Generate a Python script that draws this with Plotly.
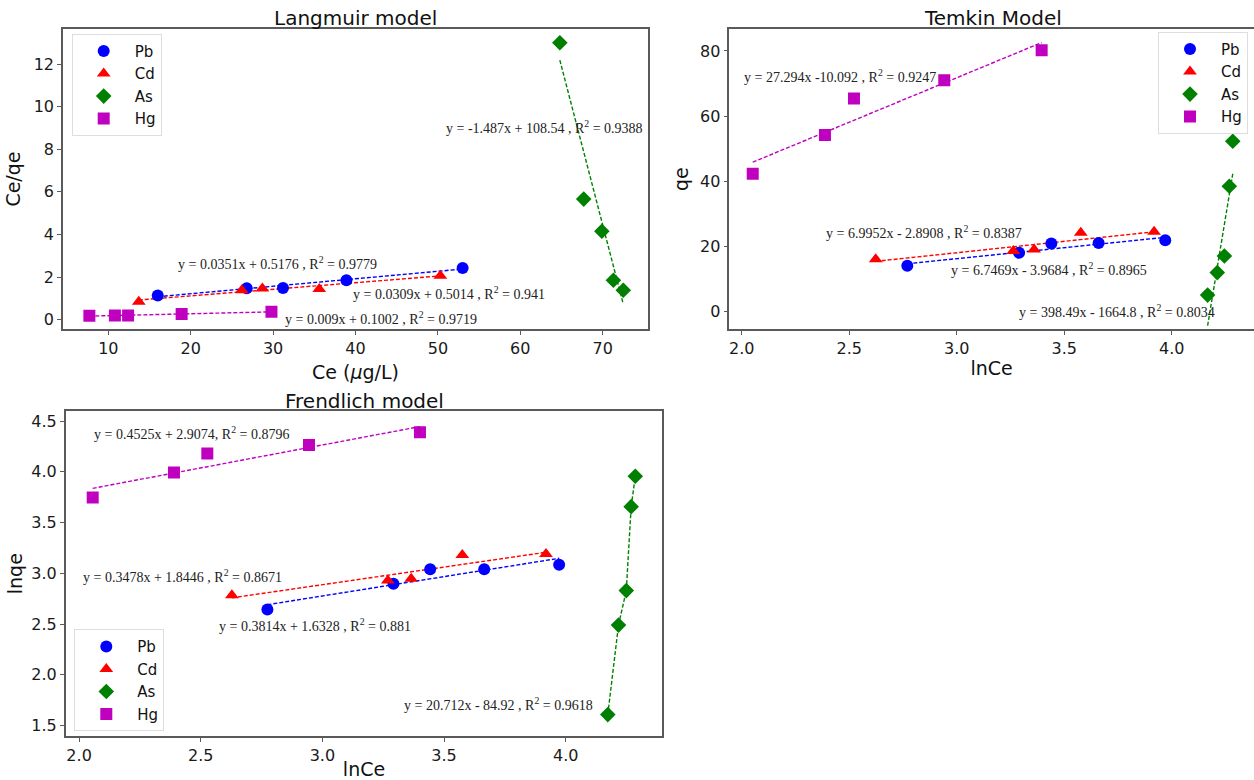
import plotly.graph_objects as go

# ---------------- data ----------------
metals = ["Pb", "Cd", "As", "Hg"]
colors = {"Pb": "#0000FF", "Cd": "#FF0000", "As": "#008000", "Hg": "#BF00BF"}
symbols = {"Pb": "circle", "Cd": "triangle-up", "As": "diamond", "Hg": "square"}

# Langmuir: Ce vs Ce/qe
lang_x_Pb = [16.0, 26.8, 31.2, 38.9, 53.0]
lang_y_Pb = [1.14, 1.48, 1.49, 1.85, 2.43]
lang_x_Cd = [13.7, 26.2, 28.7, 35.6, 50.3]
lang_y_Cd = [0.84, 1.38, 1.46, 1.44, 2.06]
lang_x_As = [64.8, 67.7, 69.9, 71.3, 72.5]
lang_y_As = [13.0, 5.66, 4.15, 1.85, 1.38]
lang_x_Hg = [7.7, 10.8, 12.4, 18.9, 29.8]
lang_y_Hg = [0.19, 0.2, 0.2, 0.27, 0.37]
lang_fit = {"Pb": (0.0351, 0.5176), "Cd": (0.0309, 0.5014), "As": (-1.487, 108.54), "Hg": (0.009, 0.1002)}
lang_eq = {
    "Pb": "y = 0.0351x + 0.5176 , R<sup>2</sup> = 0.9779",
    "Cd": "y = 0.0309x + 0.5014 , R<sup>2</sup> = 0.941",
    "As": "y = -1.487x + 108.54 , R<sup>2</sup> = 0.9388",
    "Hg": "y = 0.009x + 0.1002 , R<sup>2</sup> = 0.9719",
}

# Temkin: lnCe vs qe
temk_x_Pb = [2.77, 3.29, 3.44, 3.66, 3.97]
temk_y_Pb = [14.1, 18.1, 20.9, 21.1, 21.9]
temk_x_Cd = [2.623, 3.263, 3.36, 3.577, 3.918]
temk_y_Cd = [16.1, 18.6, 19.1, 24.2, 24.5]
temk_x_As = [4.167, 4.212, 4.245, 4.268, 4.284]
temk_y_As = [5.1, 12.0, 17.1, 38.5, 52.3]
temk_x_Hg = [2.051, 2.387, 2.522, 2.942, 3.395]
temk_y_Hg = [42.3, 54.2, 65.4, 71.0, 80.2]
temk_fit = {"Pb": (6.7469, -3.9684), "Cd": (6.9952, -2.8908), "As": (398.49, -1664.8), "Hg": (27.294, -10.092)}
temk_eq = {
    "Pb": "y = 6.7469x - 3.9684 , R<sup>2</sup> = 0.8965",
    "Cd": "y = 6.9952x - 2.8908 , R<sup>2</sup> = 0.8387",
    "As": "y = 398.49x - 1664.8 , R<sup>2</sup> = 0.8034",
    "Hg": "y = 27.294x -10.092 , R<sup>2</sup> = 0.9247",
}

# Freundlich: lnCe vs lnqe
freu_x_Pb = [2.774, 3.292, 3.443, 3.665, 3.973]
freu_y_Pb = [2.643, 2.898, 3.04, 3.04, 3.084]
freu_x_Cd = [2.628, 3.269, 3.365, 3.575, 3.919]
freu_y_Cd = [2.784, 2.93, 2.947, 3.18, 3.19]
freu_x_As = [4.173, 4.217, 4.249, 4.269, 4.286]
freu_y_As = [1.608, 2.49, 2.83, 3.657, 3.957]
freu_x_Hg = [2.056, 2.39, 2.527, 2.945, 3.401]
freu_y_Hg = [3.748, 3.993, 4.18, 4.265, 4.39]
freu_fit = {"Pb": (0.3814, 1.6328), "Cd": (0.3478, 1.8446), "Hg": (0.4525, 2.9074)}
freu_eq = {
    "Pb": "y = 0.3814x + 1.6328 , R<sup>2</sup> = 0.881",
    "Cd": "y = 0.3478x + 1.8446 , R<sup>2</sup> = 0.8671",
    "As": "y = 20.712x - 84.92 , R<sup>2</sup> = 0.9618",
    "Hg": "y = 0.4525x + 2.9074, R<sup>2</sup> = 0.8796",
}

lang = {"Pb": (lang_x_Pb, lang_y_Pb), "Cd": (lang_x_Cd, lang_y_Cd), "As": (lang_x_As, lang_y_As), "Hg": (lang_x_Hg, lang_y_Hg)}
temk = {"Pb": (temk_x_Pb, temk_y_Pb), "Cd": (temk_x_Cd, temk_y_Cd), "As": (temk_x_As, temk_y_As), "Hg": (temk_x_Hg, temk_y_Hg)}
freu = {"Pb": (freu_x_Pb, freu_y_Pb), "Cd": (freu_x_Cd, freu_y_Cd), "As": (freu_x_As, freu_y_As), "Hg": (freu_x_Hg, freu_y_Hg)}

# ---------------- figure ----------------
W, H = 1254, 780
fig = go.Figure()

def px(x):
    return x / W

def py(y):
    return 1 - y / H

FRAME = "#5a5a5a"
TICKFONT = dict(family="DejaVu Sans", size=16, color="#1a1a1a")
LABFONT = dict(family="DejaVu Sans", size=19, color="#111111")
TITLEFONT = dict(family="DejaVu Sans", size=20, color="#111111")
EQFONT = dict(family="Liberation Serif", size=14, color="#222222")
LEGFONT = dict(family="DejaVu Sans", size=15, color="#111111")
DASH = "4px,2px"

panels = [
    ("lang", lang, lang_fit, "", "legend"),
    ("temk", temk, temk_fit, "2", "legend2"),
    ("freu", freu, freu_fit, "3", "legend3"),
]

for name, data, fit, sfx, leg in panels:
    xa = "x" + sfx
    ya = "y" + sfx
    for m in metals:
        xs, ys = data[m]
        if m in fit:
            a, b = fit[m]
            lx = [min(xs), max(xs)]
            ly = [a * v + b for v in lx]
        else:
            lx, ly = xs, ys
        fig.add_trace(go.Scatter(x=lx, y=ly, mode="lines", xaxis=xa, yaxis=ya,
                                 line=dict(color=colors[m], width=1.4, dash=DASH),
                                 showlegend=False, hoverinfo="skip"))
    for m in metals:
        xs, ys = data[m]
        fig.add_trace(go.Scatter(x=xs, y=ys, mode="markers", name=m, xaxis=xa, yaxis=ya,
                                 legend=leg,
                                 marker=dict(color=colors[m], symbol=symbols[m], size=12,
                                             line=dict(width=0))))

axis_common = dict(showline=True, linecolor=FRAME, linewidth=1.5, ticks="outside",
                   ticklen=4, tickcolor=FRAME, showgrid=False, zeroline=False,
                   tickfont=TICKFONT)

legend_common = dict(bgcolor="white", bordercolor="#dddddd", borderwidth=1, font=LEGFONT,
                     itemwidth=52)

fig.update_layout(
    width=W, height=H, margin=dict(l=0, r=0, t=0, b=0),
    paper_bgcolor="white", plot_bgcolor="white",
    # Langmuir
    xaxis=dict(domain=[px(63), px(648)], range=[4.5, 75.5], dtick=10, tick0=0,
               anchor="y", mirror=True, title=dict(text="Ce (<i>μ</i>g/L)", font=LABFONT, standoff=8),
               **axis_common),
    yaxis=dict(domain=[py(331), py(29)], range=[-0.45, 13.65], dtick=2, tick0=0,
               anchor="x", mirror=True, title=dict(text="Ce/qe", font=LABFONT, standoff=8),
               **axis_common),
    # Temkin
    xaxis2=dict(domain=[px(729.3), 1.0], range=[1.942, 2.0 + (W - 741.7) / 215.0], dtick=0.5,
                tick0=0, tickformat=".1f", anchor="y2", mirror=True,
                title=dict(text="lnCe", font=LABFONT, standoff=4), **axis_common),
    yaxis2=dict(domain=[py(331), py(29.3)], range=[-5.4, 86.7], dtick=20, tick0=0,
                anchor="x2", mirror=False, title=dict(text="qe", font=LABFONT, standoff=6),
                **axis_common),
    # Freundlich
    xaxis3=dict(domain=[px(65.7), px(662.3)], range=[1.945, 4.397], dtick=0.5, tick0=0,
                tickformat=".1f", anchor="y3", mirror=True,
                title=dict(text="lnCe", font=LABFONT, standoff=2), **axis_common),
    yaxis3=dict(domain=[py(740), py(413.3)], range=[1.395, 4.598], dtick=0.5, tick0=0,
                tickformat=".1f", anchor="x3", mirror=True,
                title=dict(text="lnqe", font=LABFONT, standoff=4), **axis_common),
    legend=dict(x=px(71.7), y=py(34), xanchor="left", yanchor="top", **legend_common),
    legend2=dict(x=px(1248), y=py(32), xanchor="right", yanchor="top", **legend_common),
    legend3=dict(x=px(74.3), y=py(735), xanchor="left", yanchor="bottom", **legend_common),
)

# titles
titles = [("Langmuir model", px(355.5), py(18)), ("Temkin Model", px(993), py(18)),
          ("Frendlich model", px(364), py(403))]
for t, x, y in titles:
    fig.add_annotation(text=t, x=x, y=y, xref="paper", yref="paper", showarrow=False,
                       xanchor="center", yanchor="middle", font=TITLEFONT)

# equation labels (left x in data coords, y centre in data coords)
eq_pos = {
    "lang": {"Pb": (18.2, 2.66), "Cd": (39.4, 1.26), "As": (50.7, 9.06), "Hg": (31.2, 0.06)},
    "temk": {"Pb": (2.966, 13.2), "Cd": (2.384, 24.5), "As": (3.282, 0.3), "Hg": (2.0, 72.2)},
    "freu": {"Pb": (2.568, 2.49), "Cd": (2.008, 2.975), "As": (3.326, 1.712), "Hg": (2.052, 4.385)},
}
eq_axes = {"lang": ("x", "y", lang_eq), "temk": ("x2", "y2", temk_eq), "freu": ("x3", "y3", freu_eq)}
for pn, (xr, yr, eqs) in eq_axes.items():
    for m in metals:
        x, y = eq_pos[pn][m]
        fig.add_annotation(text=eqs[m], x=x, y=y, xref=xr, yref=yr, showarrow=False,
                           xanchor="left", yanchor="middle", font=EQFONT)

fig.write_html("out.html")
